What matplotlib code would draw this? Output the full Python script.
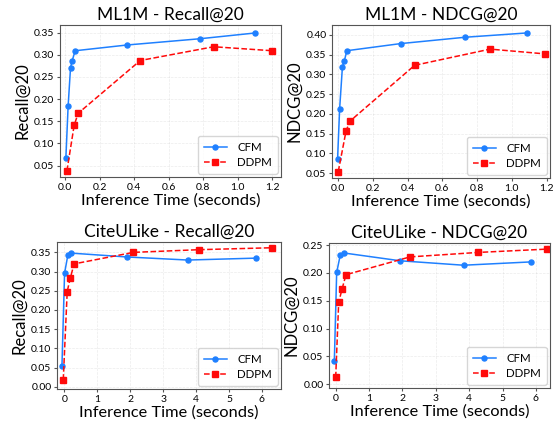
# Inference time vs. accuracy, CFM vs DDPM, on ML1M and CiteULike.

import matplotlib
matplotlib.use("Agg")
import matplotlib.pyplot as plt
from matplotlib.ticker import FormatStrFormatter

plt.rcParams["font.family"] = ["Lato", "DejaVu Sans"]

# ML1M - Recall@20
ml_rec_cfm_t = [0.004, 0.017, 0.031, 0.040, 0.058, 0.36, 0.78, 1.10]
ml_rec_cfm_v = [0.067, 0.184, 0.271, 0.286, 0.309, 0.322, 0.336, 0.349]
ml_rec_ddpm_t = [0.010, 0.052, 0.075, 0.435, 0.86, 1.20]
ml_rec_ddpm_v = [0.038, 0.141, 0.168, 0.287, 0.318, 0.309]

# ML1M - NDCG@20
ml_ndcg_cfm_t = [-0.004, 0.008, 0.024, 0.034, 0.050, 0.36, 0.73, 1.09]
ml_ndcg_cfm_v = [0.085, 0.213, 0.319, 0.333, 0.360, 0.378, 0.394, 0.405]
ml_ndcg_ddpm_t = [0.0, 0.045, 0.068, 0.44, 0.875, 1.19]
ml_ndcg_ddpm_v = [0.054, 0.157, 0.182, 0.323, 0.364, 0.352]

# CiteULike - Recall@20
cu_rec_cfm_t = [-0.07, 0.01, 0.11, 0.22, 1.90, 3.75, 5.83]
cu_rec_cfm_v = [0.053, 0.296, 0.343, 0.348, 0.338, 0.330, 0.335]
cu_rec_ddpm_t = [-0.03, 0.09, 0.18, 0.30, 2.10, 4.10, 6.30]
cu_rec_ddpm_v = [0.018, 0.248, 0.282, 0.320, 0.350, 0.357, 0.362]

# CiteULike - NDCG@20
cu_ndcg_cfm_t = [-0.04, 0.03, 0.14, 0.25, 1.93, 3.83, 5.86]
cu_ndcg_cfm_v = [0.042, 0.201, 0.233, 0.236, 0.222, 0.214, 0.220]
cu_ndcg_ddpm_t = [0.0, 0.09, 0.19, 0.31, 2.23, 4.26, 6.33]
cu_ndcg_ddpm_v = [0.012, 0.147, 0.171, 0.197, 0.229, 0.237, 0.243]

titles = ["ML1M - Recall@20", "ML1M - NDCG@20", "CiteULike - Recall@20", "CiteULike - NDCG@20"]
ylabels = ["Recall@20", "NDCG@20", "Recall@20", "NDCG@20"]
series = [
    (ml_rec_cfm_t, ml_rec_cfm_v, ml_rec_ddpm_t, ml_rec_ddpm_v),
    (ml_ndcg_cfm_t, ml_ndcg_cfm_v, ml_ndcg_ddpm_t, ml_ndcg_ddpm_v),
    (cu_rec_cfm_t, cu_rec_cfm_v, cu_rec_ddpm_t, cu_rec_ddpm_v),
    (cu_ndcg_cfm_t, cu_ndcg_cfm_v, cu_ndcg_ddpm_t, cu_ndcg_ddpm_v),
]

# ticks as printed in the reference
ml_xticks = [0.0, 0.2, 0.4, 0.6, 0.8, 1.0, 1.2]
cu_xticks = [0, 1, 2, 3, 4, 5, 6]
xticks = [ml_xticks, ml_xticks, cu_xticks, cu_xticks]
xfmts = ["%.1f", "%.1f", "%d", "%d"]
yticks = [
    [0.05, 0.10, 0.15, 0.20, 0.25, 0.30, 0.35],
    [0.05, 0.10, 0.15, 0.20, 0.25, 0.30, 0.35, 0.40],
    [0.00, 0.05, 0.10, 0.15, 0.20, 0.25, 0.30, 0.35],
    [0.00, 0.05, 0.10, 0.15, 0.20, 0.25],
]

xlims = [(-0.03, 1.25), (-0.036, 1.22), (-0.22, 6.58), (-0.2, 6.42)]
ylims = [(0.0245, 0.367), (0.038, 0.425), (-0.006, 0.377), (-0.007, 0.254)]

# axes boxes in pixels: left, right, top, bottom (555 x 423 canvas)
W, H = 555, 423
boxes = [(60, 281, 25, 177), (332, 550, 25, 178), (57, 281, 242, 389), (329, 550, 243, 388)]

CFM_COLOR = "#1f80ff"
DDPM_COLOR = "#ff0a0a"

fig = plt.figure(figsize=(W / 100, H / 100), dpi=100)

for i in range(4):
    l, r, t, b = boxes[i]
    ax = fig.add_axes([l / W, 1 - b / H, (r - l) / W, (b - t) / H])
    ct, cv, dt, dv = series[i]
    ax.plot(ct, cv, color=CFM_COLOR, marker="o", markersize=3.6, linewidth=1.1, label="CFM")
    ax.plot(dt, dv, color=DDPM_COLOR, marker="s", markersize=3.8, linewidth=1.1,
            linestyle="--", label="DDPM")
    ax.set_xticks(xticks[i])
    ax.set_yticks(yticks[i])
    ax.xaxis.set_major_formatter(FormatStrFormatter(xfmts[i]))
    ax.yaxis.set_major_formatter(FormatStrFormatter("%.2f"))
    ax.set_xlim(*xlims[i])
    ax.set_ylim(*ylims[i])
    ax.set_title(titles[i], fontsize=12.5, pad=4)
    ax.set_xlabel("Inference Time (seconds)", fontsize=11.8, labelpad=1)
    ax.set_ylabel(ylabels[i], fontsize=12, labelpad=3)
    ax.tick_params(labelsize=7.5, length=2.5, pad=1.5, color="#555555")
    for s in ax.spines.values():
        s.set_color("#555555")
        s.set_linewidth(0.8)
    ax.grid(True, linestyle="--", linewidth=0.5, alpha=0.25)
    ax.legend(loc="lower right", fontsize=8.3, handlelength=2.0, borderpad=0.5,
              labelspacing=0.35, handletextpad=0.9, borderaxespad=0.3)

fig.savefig("out.png", dpi=100)
